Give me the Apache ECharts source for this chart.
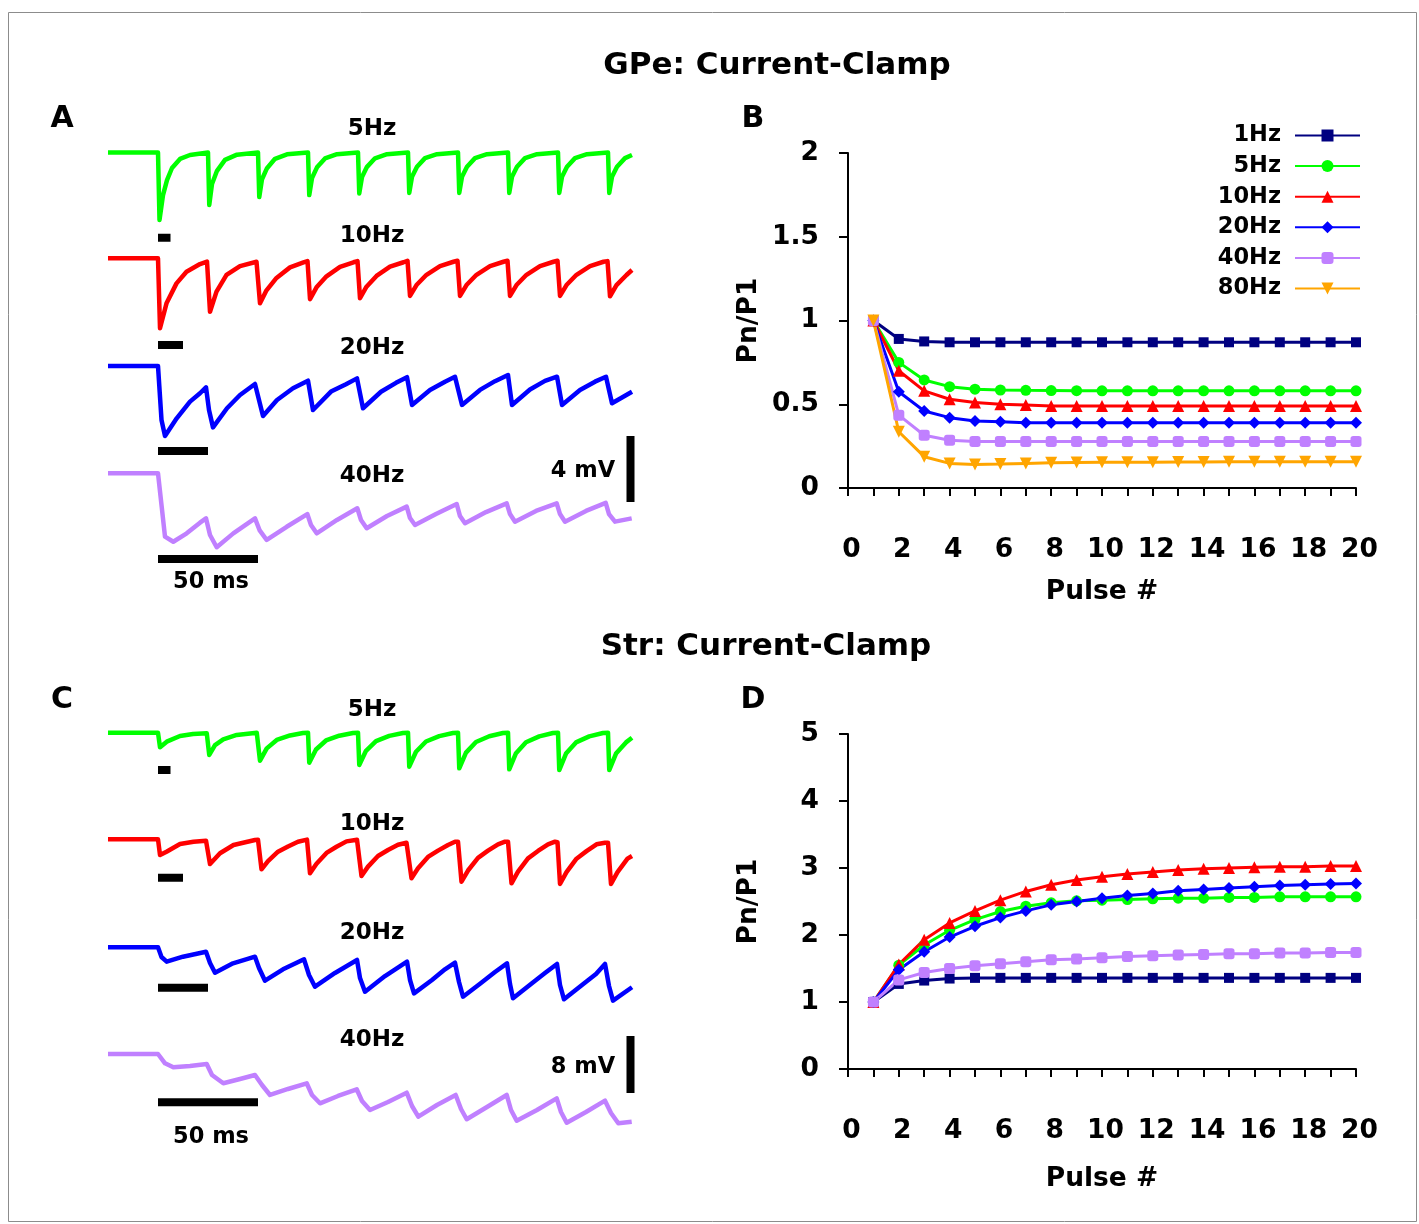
<!DOCTYPE html>
<html><head><meta charset="utf-8">
<script src="https://cdn.jsdelivr.net/npm/echarts@6/dist/echarts.min.js"></script>
<style>html,body{margin:0;padding:0;background:#fff}#c{width:1419px;height:1224px}</style>
</head><body><div id="c"></div>
<script>
// ---------------- DATA ----------------
const pulseNumbers = [1,2,3,4,5,6,7,8,9,10,11,12,13,14,15,16,17,18,19,20];
const pulseTickLabels = ['0','2','4','6','8','10','12','14','16','18','20'];
const ratioTicksGPe = ['0','0.5','1','1.5','2'];
const ratioTicksStr = ['0','1','2','3','4','5'];
const freqNames = ['1Hz','5Hz','10Hz','20Hz','40Hz','80Hz'];
const traceNames = ['5Hz','10Hz','20Hz','40Hz'];
const traceFreqHz = [5,10,20,40];

// Panel B: GPe Pn/P1
const gpe1Hz  = [1,0.89,0.875,0.87,0.87,0.87,0.87,0.87,0.87,0.87,0.87,0.87,0.87,0.87,0.87,0.87,0.87,0.87,0.87,0.87];
const gpe5Hz  = [1,0.75,0.645,0.605,0.59,0.585,0.583,0.582,0.581,0.58,0.58,0.58,0.58,0.58,0.58,0.58,0.58,0.58,0.58,0.58];
const gpe10Hz = [1,0.70,0.58,0.53,0.51,0.50,0.495,0.49,0.49,0.49,0.49,0.49,0.49,0.49,0.49,0.49,0.49,0.49,0.49,0.49];
const gpe20Hz = [1,0.575,0.46,0.42,0.40,0.395,0.39,0.39,0.39,0.39,0.39,0.39,0.39,0.39,0.39,0.39,0.39,0.39,0.39,0.39];
const gpe40Hz = [1,0.435,0.315,0.285,0.278,0.277,0.277,0.277,0.277,0.277,0.277,0.277,0.277,0.277,0.277,0.277,0.277,0.277,0.277,0.277];
const gpe80Hz = [1,0.336,0.187,0.147,0.141,0.143,0.147,0.151,0.152,0.153,0.154,0.154,0.155,0.155,0.156,0.156,0.156,0.157,0.157,0.157];

// Panel D: Str Pn/P1
const str1Hz  = [1,1.27,1.32,1.35,1.36,1.36,1.36,1.36,1.36,1.36,1.36,1.36,1.36,1.36,1.36,1.36,1.36,1.36,1.36,1.36];
const str5Hz  = [1,1.55,1.85,2.07,2.23,2.35,2.43,2.48,2.51,2.52,2.53,2.54,2.55,2.55,2.56,2.56,2.57,2.57,2.57,2.57];
const str10Hz = [1,1.56,1.93,2.18,2.36,2.52,2.65,2.75,2.82,2.87,2.91,2.94,2.97,2.99,3.0,3.01,3.02,3.02,3.03,3.03];
const str20Hz = [1,1.48,1.75,1.97,2.13,2.26,2.36,2.45,2.50,2.55,2.59,2.62,2.66,2.68,2.70,2.72,2.74,2.75,2.76,2.77];
const str40Hz = [1,1.33,1.44,1.50,1.54,1.57,1.60,1.63,1.64,1.66,1.68,1.69,1.70,1.71,1.72,1.72,1.73,1.73,1.74,1.74];

// Panel A: GPe traces [time ms, mV re. baseline]
const gpeTrace5Hz = [
[-200,0],[0,0],[6,-4.09],[20,-2.58],[36,-1.67],[56,-0.94],[88,-0.39],[128,-0.15],
[200,0],[205,-3.18],[216,-1.91],[236,-1.11],[268,-0.45],[316,-0.13],
[400,0],[405,-2.70],[416,-1.62],[436,-0.95],[468,-0.38],[516,-0.11],
[600,0],[605,-2.58],[616,-1.55],[636,-0.90],[668,-0.36],[716,-0.10],
[800,0],[805,-2.48],[816,-1.49],[836,-0.87],[868,-0.35],[916,-0.10],
[1000,0],[1005,-2.45],[1016,-1.47],[1036,-0.86],[1068,-0.34],[1116,-0.10],
[1200,0],[1205,-2.45],[1216,-1.47],[1236,-0.86],[1268,-0.34],[1316,-0.10],
[1400,0],[1405,-2.45],[1416,-1.47],[1436,-0.86],[1468,-0.34],[1516,-0.10],
[1600,0],[1605,-2.45],[1616,-1.47],[1636,-0.86],[1668,-0.34],[1716,-0.10],
[1800,0],[1805,-2.45],[1816,-1.47],[1836,-0.86],[1868,-0.34],[1896,-0.15]
];
const gpeTrace10Hz = [
[-100,0],[0,0],[4,-4.24],[17,-2.73],[37,-1.52],[57,-0.81],[84,-0.35],[98,-0.20],
[104,-3.24],[117,-2.02],[137,-1.01],[164,-0.47],[197,-0.21],
[204,-2.73],[217,-1.94],[237,-1.19],[264,-0.55],[291,-0.25],[299,-0.17],
[304,-2.48],[317,-1.76],[337,-1.09],[364,-0.52],[391,-0.24],[399,-0.17],
[404,-2.42],[417,-1.72],[437,-1.07],[464,-0.51],[491,-0.24],[499,-0.15],
[504,-2.28],[517,-1.62],[537,-1.00],[564,-0.47],[591,-0.21],[599,-0.15],
[604,-2.28],[617,-1.62],[637,-1.00],[664,-0.47],[691,-0.21],[699,-0.15],
[704,-2.28],[717,-1.62],[737,-1.00],[764,-0.47],[791,-0.21],[799,-0.15],
[804,-2.28],[817,-1.62],[837,-1.00],[864,-0.47],[891,-0.21],[899,-0.17],
[904,-2.30],[917,-1.63],[937,-1.01],[948,-0.71]
];
const gpeTrace20Hz = [
[-50,0],[0,0],[3.5,-3.27],[7,-4.24],[18.7,-3.17],[32,-2.16],[42,-1.65],[48,-1.29],
[51,-2.67],[55,-3.72],[69,-2.56],[82,-1.76],[97,-1.09],
[101,-2.06],[105,-3.03],[119,-2.06],[135,-1.35],[150,-0.89],
[155,-2.67],[173,-1.55],[188,-1.10],[199,-0.75],
[205,-2.56],[223,-1.56],[238,-1.02],[249,-0.68],
[254,-2.36],[272,-1.45],[287,-0.95],[297,-0.65],
[304,-2.36],[322,-1.45],[337,-0.92],[350,-0.55],
[354,-2.36],[372,-1.42],[387,-0.90],[399,-0.65],
[404,-2.36],[422,-1.45],[437,-0.95],[448,-0.65],
[454,-2.26],[474,-1.56]
];
const gpeTrace40Hz = [
[-25,0],[0,0],[1.85,-2.02],[3.5,-3.84],[7.65,-4.15],[14.35,-3.64],[21,-2.99],[24,-2.73],
[26,-3.74],[29.35,-4.48],[37.65,-3.64],[48.5,-2.73],
[50.75,-3.44],[54.35,-4.04],[64.35,-3.24],[74.65,-2.47],
[76.5,-3.13],[79.35,-3.64],[89.5,-2.83],[99.65,-2.12],
[101.5,-2.83],[104.35,-3.33],[114.5,-2.59],[124.35,-2.02],
[126,-2.71],[128.5,-3.13],[139,-2.47],[149.35,-1.86],
[151,-2.59],[153.5,-3.03],[164,-2.35],[174.35,-1.82],
[176,-2.47],[178.5,-2.93],[189,-2.28],[199.35,-1.82],
[201,-2.47],[203.5,-2.93],[214,-2.28],[223.85,-1.79],
[225.5,-2.47],[228.5,-2.93],[236.85,-2.73]
];

// Panel C: Str traces [time ms, mV re. baseline]
const strTrace5Hz = [
[-200,0],[0,0],[8,-2.05],[35,-1.26],[88,-0.46],[140,-0.18],[195,-0.08],
[200,0],[205,-3.13],[228,-1.73],[261,-0.93],[315,-0.32],[395,0],
[400,0],[408,-3.93],[435,-2.20],[475,-1.02],[528,-0.39],[580,-0.05],
[600,0],[605,-4.21],[632,-2.36],[672,-1.09],[725,-0.42],[780,-0.05],
[800,0],[805,-4.53],[832,-2.54],[872,-1.18],[925,-0.45],[980,-0.05],
[1000,0],[1005,-4.77],[1032,-2.67],[1072,-1.24],[1125,-0.48],[1180,-0.05],
[1200,0],[1205,-5.00],[1232,-2.80],[1272,-1.30],[1325,-0.50],[1380,-0.05],
[1400,0],[1405,-5.14],[1432,-2.88],[1472,-1.34],[1525,-0.51],[1580,-0.05],
[1600,0],[1605,-5.24],[1632,-2.93],[1672,-1.36],[1725,-0.52],[1780,-0.05],
[1800,0],[1805,-5.24],[1832,-2.93],[1872,-1.36],[1896,-0.70]
];
const strTrace10Hz = [
[-100,0],[0,0],[4,-2.20],[17,-1.74],[44,-0.66],[71,-0.34],[96,-0.20],
[100,-0.2],[104,-3.47],[124,-1.96],[151,-0.80],[194,-0.10],
[200,-0.05],[207,-4.21],[220,-3.06],[240,-1.74],[260,-1.00],[280,-0.34],[298,-0.05],
[300,-0.05],[304,-4.77],[317,-3.43],[337,-1.91],[357,-1.05],[377,-0.29],[398,-0.05],
[401,-0.1],[407,-5.15],[420,-3.84],[440,-2.35],[460,-1.50],[480,-0.76],[497,-0.48],
[501,-0.45],[507,-5.47],[520,-4.07],[540,-2.48],[560,-1.59],[580,-0.80],[594,-0.34],
[600,-0.34],[607,-5.95],[620,-4.38],[640,-2.60],[660,-1.60],[680,-0.70],[694,-0.34],
[700,-0.34],[707,-6.18],[720,-4.54],[740,-2.68],[760,-1.64],[780,-0.70],[794,-0.34],
[799,-0.4],[804,-6.27],[817,-4.61],[837,-2.72],[857,-1.66],[877,-0.70],[894,-0.48],
[900,-0.48],[906,-6.27],[919,-4.60],[939,-2.72],[948,-2.34]
];
const strTrace20Hz = [
[-50,0],[0,0],[3.5,-1.36],[8.7,-2.02],[25,-1.32],[48,-0.62],
[52,-2.20],[57,-3.56],[75,-2.25],[97,-1.32],
[101,-2.90],[107,-4.69],[125,-3.09],[146,-1.68],
[151,-3.89],[157,-5.53],[177,-3.60],[199,-1.78],
[202,-4.31],[207,-6.23],[227,-4.03],[249,-2.02],
[252,-4.59],[256,-6.46],[274,-4.59],[287,-3.09],[297,-2.16],
[301,-4.87],[305,-6.93],[323,-5.01],[337,-3.47],[349,-2.25],
[352,-5.15],[355,-7.16],[373,-5.15],[387,-3.61],[399,-2.34],
[402,-5.29],[406,-7.30],[424,-5.29],[438,-3.75],[447,-2.34],
[451,-5.43],[455,-7.49],[474,-5.61]
];
const strTrace40Hz = [
[-25,0],[0,0],[3.5,-1.31],[7.65,-1.87],[16,-1.68],[24.35,-1.40],
[27,-2.95],[32.65,-4.11],[41,-3.51],[48.5,-2.95],
[52,-4.35],[56,-5.75],[65,-4.91],[74.35,-4.11],
[77,-5.75],[81,-6.92],[90,-5.89],[99.35,-4.95],
[102,-6.60],[106,-7.86],[115,-6.74],[124.35,-5.43],
[127,-7.30],[130.15,-8.80],[139.5,-7.16],[148.85,-5.75],
[151.5,-7.72],[154.35,-9.16],[164.5,-7.44],[174.35,-5.75],
[176.5,-7.86],[179.35,-9.36],[189.5,-7.86],[199.35,-6.22],
[201.5,-8.14],[204.35,-9.64],[214,-8.14],[223.5,-6.55],
[226.5,-8.28],[230.15,-9.73],[236.85,-9.50]
];

const scaleBarMs = 50;
const scaleBarGPeMv = 4;
const scaleBarStrMv = 8;

// ---------------- LAYOUT / STYLE ----------------
const FONT = '"DejaVu Sans", Verdana, sans-serif';
const traceColors = ['#00ff00','#ff0000','#0000ff','#c080ff'];
const seriesStyle = {
  '1Hz':  {color:'#000080', symbol:'rect', size:10, rotate:0},
  '5Hz':  {color:'#00ff00', symbol:'circle', size:11, rotate:0},
  '10Hz': {color:'#ff0000', symbol:'triangle', size:12, rotate:0},
  '20Hz': {color:'#0000ff', symbol:'diamond', size:12, rotate:0},
  '40Hz': {color:'#c080ff', symbol:'roundRect', size:11, rotate:0},
  '80Hz': {color:'#ffa500', symbol:'triangle', size:12, rotate:180}
};
const panelA = {baselines:[152.5,258.3,366,473.3], pxPerMv:16.5, ymin:-6, ymax:1, barMv:[-5.16,-5.25,-5.15,-5.19], vBarTop:2.26};
const panelC = {baselines:[732.7,839.3,947.3,1054], pxPerMv:7.125, ymin:-11, ymax:1, barMv:[-5.24,-5.39,-5.67,-6.78], vBarTop:2.53};
const traceLeft = 108, traceWidth = 524, pxPerPeriod = 50, pulseX = 158;

const grids = [], xAxes = [], yAxes = [], series = [];

function addTracePanel(panel, traces, mvBar) {
  traces.forEach((tr, i) => {
    const gi = grids.length;
    const period = 1000 / traceFreqHz[i];
    const msPerPx = period / pxPerPeriod;
    const top = panel.baselines[i] - panel.pxPerMv * panel.ymax;
    const height = panel.pxPerMv * (panel.ymax - panel.ymin);
    grids.push({left: traceLeft, top: top, width: traceWidth, height: height, show:false, outerBoundsMode:'none'});
    const xmin = -(pulseX - traceLeft) * msPerPx;
    const xmax = (traceLeft + traceWidth - pulseX) * msPerPx;
    xAxes.push({gridIndex: gi, type:'value', min: xmin, max: xmax, show:false});
    yAxes.push({gridIndex: gi, type:'value', min: panel.ymin, max: panel.ymax, show:false});
    series.push({type:'line', xAxisIndex: gi, yAxisIndex: gi, data: tr, symbol:'none', clip:false, silent:true,
      lineStyle:{color: traceColors[i], width:4.5, join:'round'}, z:2});
    series.push({type:'line', xAxisIndex: gi, yAxisIndex: gi, symbol:'none', clip:false, silent:true,
      data: [[0, panel.barMv[i]], [scaleBarMs, panel.barMv[i]]],
      lineStyle:{color:'#000', width:8, cap:'butt'}, z:3});
    if (i === traces.length - 1) {
      const xv = (630.5 - pulseX) * msPerPx;
      series.push({type:'line', xAxisIndex: gi, yAxisIndex: gi, symbol:'none', clip:false, silent:true,
        data: [[xv, panel.vBarTop], [xv, panel.vBarTop - mvBar]],
        lineStyle:{color:'#000', width:8, cap:'butt'}, z:3});
    }
  });
}
addTracePanel(panelA, [gpeTrace5Hz, gpeTrace10Hz, gpeTrace20Hz, gpeTrace40Hz], scaleBarGPeMv);
addTracePanel(panelC, [strTrace5Hz, strTrace10Hz, strTrace20Hz, strTrace40Hz], scaleBarStrMv);

const labelStyle = {fontFamily: FONT, fontWeight:'bold', color:'#000'};
function addRatioChart(top, ymax, yint, yTicks, nameGapX, sets) {
  const gi = grids.length;
  grids.push({left:848, top: top, width:508, height:335, show:false, outerBoundsMode:'none'});
  xAxes.push({gridIndex: gi, type:'value', min:0, max:20, interval:1,
    axisLine:{show:true, lineStyle:{color:'#000', width:2}},
    axisTick:{show:true, length:8, lineStyle:{color:'#000', width:2}},
    axisLabel:Object.assign({fontSize:26.5, margin:49, padding:[0,0,0,7], formatter: v => pulseTickLabels.includes(String(v)) ? String(v) : ''}, labelStyle),
    splitLine:{show:false},
    name:'Pulse #', nameLocation:'middle', nameGap: nameGapX,
    nameTextStyle:Object.assign({fontSize:26.5}, labelStyle)});
  yAxes.push({gridIndex: gi, type:'value', min:0, max:ymax, interval:yint,
    axisLine:{show:true, lineStyle:{color:'#000', width:2}},
    axisTick:{show:true, length:9, lineStyle:{color:'#000', width:2}},
    axisLabel:Object.assign({fontSize:26.5, margin:29, formatter: v => yTicks.includes(String(v)) ? String(v) : ''}, labelStyle),
    splitLine:{show:false},
    name:'Pn/P1', nameLocation:'middle', nameGap:85, nameRotate:90,
    nameTextStyle:Object.assign({fontSize:26.5}, labelStyle)});
  sets.forEach(([name, vals]) => {
    const st = seriesStyle[name];
    series.push({type:'line', name: name, xAxisIndex: gi, yAxisIndex: gi,
      data: pulseNumbers.map((p, k) => [p, vals[k]]),
      symbol: st.symbol, symbolSize: st.size, symbolRotate: st.rotate, showAllSymbol:true,
      lineStyle:{color: st.color, width:3}, itemStyle:{color: st.color}, z:4});
  });
}
addRatioChart(153, 2, 0.5, ratioTicksGPe, 91,
  [['1Hz',gpe1Hz],['5Hz',gpe5Hz],['10Hz',gpe10Hz],['20Hz',gpe20Hz],['40Hz',gpe40Hz],['80Hz',gpe80Hz]]);
addRatioChart(734, 5, 1, ratioTicksStr, 97,
  [['1Hz',str1Hz],['5Hz',str5Hz],['10Hz',str10Hz],['20Hz',str20Hz],['40Hz',str40Hz]]);

function txt(text, x, y, size, align) {
  return {type:'text', silent:true, style:{text, x, y: y + 2, fill:'#000', align: align || 'center', verticalAlign:'middle',
    font: 'bold ' + size + 'px ' + FONT}};
}
const traceLabelRowsA = [127,234,346,474];
const traceLabelRowsC = [708,822,931,1038];
const graphics = [
  {type:'rect', silent:true, shape:{x:8.5, y:12.5, width:1408, height:1209}, style:{fill:'none', stroke:'#8c8c8c', lineWidth:1}},
  txt('GPe: Current-Clamp', 777, 64, 31),
  txt('Str: Current-Clamp', 766, 645, 31),
  txt('A', 62, 117, 30), txt('B', 753, 117, 30), txt('C', 62, 698, 30), txt('D', 753, 698, 30),
  txt(scaleBarGPeMv + ' mV', 583, 469, 22.5), txt(scaleBarStrMv + ' mV', 583, 1065, 22.5),
  txt(scaleBarMs + ' ms', 211, 580, 22.5), txt(scaleBarMs + ' ms', 211, 1135, 22.5)
];
traceNames.forEach((n, i) => { graphics.push(txt(n, 372, traceLabelRowsA[i], 23)); graphics.push(txt(n, 372, traceLabelRowsC[i], 23)); });

const chart = echarts.init(document.getElementById('c'), null, {renderer:'canvas'});
chart.setOption({
  animation:false,
  backgroundColor:'#fff',
  grid: grids, xAxis: xAxes, yAxis: yAxes, series: series,
  legend: {data: freqNames, orient:'vertical', right:58, top:124, align:'right', padding:0,
    itemWidth:65, itemHeight:15, itemGap:7.6, selectedMode:false,
    textStyle:{fontFamily: FONT, fontWeight:'bold', fontSize:22.5, color:'#000', lineHeight:22, padding:[0,9,0,0]}},
  graphic: graphics
});
</script>
</body></html>
